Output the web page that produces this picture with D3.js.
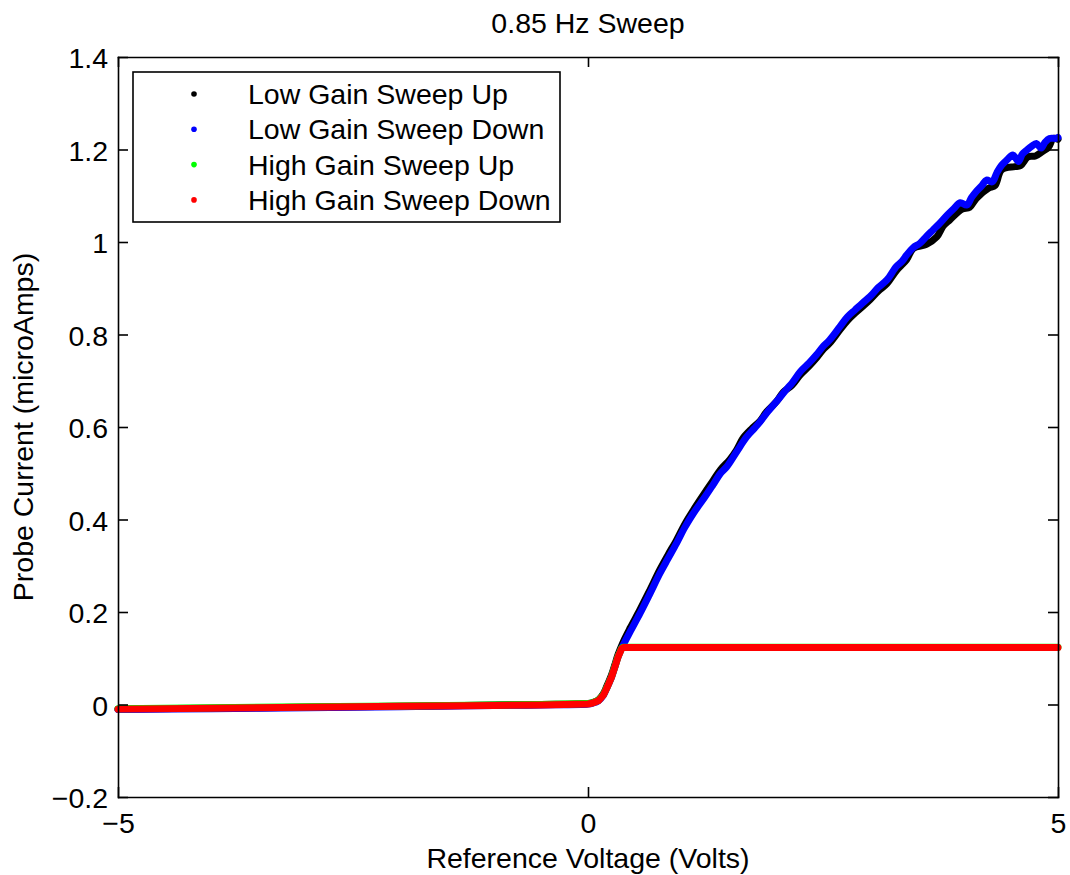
<!DOCTYPE html>
<html>
<head>
<meta charset="utf-8">
<script src="https://cdn.jsdelivr.net/npm/d3@7"></script>
<style>
  html, body { margin: 0; padding: 0; background: #fff; }
  svg { display: block; font-family: "Liberation Sans", Arial, Helvetica, sans-serif; }
  .axis text { font-size: 28.5px; fill: #000; }
  .axis path, .axis line { stroke: #000; stroke-width: 1.6px; }
</style>
</head>
<body>
<svg id="chart" width="1070" height="875"></svg>
<script>
// Probe I–V sweep at 0.85 Hz: [reference voltage (V), probe current (µA)]
const lowGainUp = [
  [-5, -0.010], [-4, -0.008], [-3, -0.006], [-2, -0.004], [-1, -0.001], [-0.5, 0.000],
  [0, 0.002], [0.05, 0.004], [0.11, 0.010], [0.163, 0.023], [0.199, 0.039], [0.252, 0.065],
  [0.287, 0.087], [0.32, 0.108], [0.376, 0.136], [0.45, 0.166], [0.553, 0.205], [0.65, 0.244],
  [0.766, 0.292], [0.85, 0.323], [0.943, 0.356], [1.03, 0.390], [1.12, 0.420], [1.22, 0.451],
  [1.33, 0.484], [1.41, 0.508], [1.51, 0.530], [1.58, 0.550], [1.65, 0.576], [1.74, 0.596],
  [1.83, 0.613], [1.90, 0.633], [2.01, 0.656], [2.08, 0.676], [2.17, 0.690], [2.26, 0.713],
  [2.35, 0.731], [2.43, 0.749], [2.50, 0.767], [2.57, 0.781], [2.68, 0.810], [2.76, 0.830],
  [2.84, 0.846], [2.92, 0.860], [3.00, 0.875], [3.09, 0.894], [3.18, 0.910], [3.28, 0.938],
  [3.39, 0.962], [3.46, 0.986], [3.60, 0.995], [3.71, 1.011], [3.78, 1.035], [3.85, 1.048],
  [3.98, 1.071], [4.06, 1.075], [4.13, 1.094], [4.26, 1.116], [4.33, 1.122], [4.40, 1.156],
  [4.54, 1.163], [4.60, 1.165], [4.68, 1.184], [4.76, 1.186], [4.83, 1.195], [4.90, 1.205],
  [4.95, 1.224], [5.0, 1.222]
];

const lowGainDown = [
  [-5, -0.011], [-4, -0.009], [-3, -0.007], [-2, -0.005], [-1, -0.002], [-0.5, -0.001],
  [0, 0.001], [0.05, 0.003], [0.11, 0.008], [0.163, 0.020], [0.199, 0.035], [0.252, 0.060],
  [0.287, 0.082], [0.32, 0.103], [0.376, 0.129], [0.45, 0.158], [0.553, 0.197], [0.65, 0.236],
  [0.766, 0.284], [0.85, 0.315], [0.943, 0.349], [1.03, 0.383], [1.12, 0.413], [1.245, 0.449],
  [1.33, 0.475], [1.41, 0.500], [1.476, 0.514], [1.58, 0.546], [1.69, 0.579], [1.77, 0.597],
  [1.83, 0.611], [1.90, 0.630], [2.01, 0.656], [2.11, 0.681], [2.17, 0.695], [2.26, 0.720],
  [2.35, 0.738], [2.43, 0.756], [2.50, 0.774], [2.57, 0.788], [2.68, 0.817], [2.76, 0.838],
  [2.84, 0.853], [2.92, 0.868], [3.00, 0.882], [3.09, 0.902], [3.18, 0.918], [3.28, 0.947],
  [3.34, 0.958], [3.39, 0.972], [3.46, 0.988], [3.53, 0.997], [3.60, 1.012], [3.67, 1.026],
  [3.74, 1.040], [3.82, 1.058], [3.89, 1.072], [3.96, 1.085], [4.03, 1.080], [4.08, 1.096],
  [4.13, 1.109], [4.19, 1.122], [4.24, 1.134], [4.30, 1.130], [4.35, 1.150], [4.40, 1.166],
  [4.46, 1.178], [4.52, 1.188], [4.58, 1.174], [4.62, 1.190], [4.67, 1.199], [4.72, 1.207],
  [4.77, 1.213], [4.82, 1.203], [4.86, 1.215], [4.91, 1.224], [4.98, 1.224], [5.0, 1.226]
];

const highGainUp = [
  [-5, -0.009], [-4, -0.007], [-3, -0.005], [-2, -0.003], [-1, -0.001], [-0.5, 0.000],
  [0, 0.002], [0.05, 0.004], [0.11, 0.009], [0.163, 0.021], [0.199, 0.036], [0.252, 0.061],
  [0.287, 0.083], [0.32, 0.104], [0.358, 0.122], [0.376, 0.124], [5.0, 0.124]
];

const highGainDown = [
  [-5, -0.010], [-4, -0.008], [-3, -0.006], [-2, -0.004], [-1, -0.002], [-0.5, -0.001],
  [0, 0.001], [0.05, 0.003], [0.11, 0.008], [0.163, 0.020], [0.199, 0.035], [0.252, 0.060],
  [0.287, 0.082], [0.32, 0.103], [0.358, 0.121], [0.376, 0.123], [5.0, 0.123]
];

const seriesNames = ["Low Gain Sweep Up", "Low Gain Sweep Down", "High Gain Sweep Up", "High Gain Sweep Down"];
const seriesColors = ["#000000", "#0000ff", "#00ff00", "#ff0000"];
const xTicks = [-5, 0, 5];
const yTicks = [-0.2, 0, 0.2, 0.4, 0.6, 0.8, 1, 1.2, 1.4];
const titleText = "0.85 Hz Sweep";
const xLabel = "Reference Voltage (Volts)";
const yLabel = "Probe Current (microAmps)";

const FONT = 28.5;
const svg = d3.select("#chart");
const plot = { left: 118, right: 1058, top: 57, bottom: 797 };

const x = d3.scaleLinear().domain([-5, 5]).range([plot.left, plot.right]);
const y = d3.scaleLinear().domain([-0.2, 1.4]).range([plot.bottom, plot.top]);

const fmt = v => (v < 0 ? "\u2212" : "") + String(Math.abs(+v.toFixed(2)));

// data traces: low-gain sweeps smoothed through the readings, high-gain kept sharp at clipping
const smoothLine = d3.line().x(d => x(d[0])).y(d => y(d[1])).curve(d3.curveCatmullRom.alpha(0.5));
const sharpLine = d3.line().x(d => x(d[0])).y(d => y(d[1])).curve(d3.curveLinear);
const allSeries = [
  { pts: lowGainUp, gen: smoothLine },
  { pts: lowGainDown, gen: smoothLine },
  { pts: highGainUp, gen: sharpLine },
  { pts: highGainDown, gen: sharpLine }
];
svg.append("g").selectAll("path")
  .data(allSeries)
  .join("path")
  .attr("d", d => d.gen(d.pts))
  .attr("fill", "none")
  .attr("stroke", (d, i) => seriesColors[i])
  .attr("stroke-width", 7)
  .attr("stroke-linecap", "round")
  .attr("stroke-linejoin", "round");

// axes with inward ticks on all four sides
svg.append("g").attr("class", "axis")
  .attr("transform", `translate(0,${plot.bottom})`)
  .call(d3.axisBottom(x).tickValues(xTicks).tickFormat(fmt).tickSizeInner(-10).tickSizeOuter(0).tickPadding(15.5));
svg.append("g").attr("class", "axis")
  .attr("transform", `translate(0,${plot.top})`)
  .call(d3.axisTop(x).tickValues(xTicks).tickFormat("").tickSizeInner(-10).tickSizeOuter(0));
svg.append("g").attr("class", "axis")
  .attr("transform", `translate(${plot.left},0)`)
  .call(d3.axisLeft(y).tickValues(yTicks).tickFormat(fmt).tickSizeInner(-10).tickSizeOuter(0).tickPadding(10))
  .selectAll("text").attr("dy", "0.37em");
svg.append("g").attr("class", "axis")
  .attr("transform", `translate(${plot.right},0)`)
  .call(d3.axisRight(y).tickValues(yTicks).tickFormat("").tickSizeInner(-10).tickSizeOuter(0));
svg.selectAll(".axis .domain").attr("stroke-linecap", "square");

// title and axis labels
svg.append("text")
  .attr("x", (plot.left + plot.right) / 2).attr("y", 33)
  .attr("text-anchor", "middle").attr("font-size", FONT)
  .text(titleText);
svg.append("text")
  .attr("x", (plot.left + plot.right) / 2).attr("y", 868)
  .attr("text-anchor", "middle").attr("font-size", FONT)
  .text(xLabel);
svg.append("text")
  .attr("transform", `translate(33,${(plot.top + plot.bottom) / 2}) rotate(-90)`)
  .attr("text-anchor", "middle").attr("font-size", FONT)
  .text(yLabel);

// legend
const legend = svg.append("g");
legend.append("rect")
  .attr("x", 133).attr("y", 72).attr("width", 427).attr("height", 150)
  .attr("fill", "#fff").attr("stroke", "#000").attr("stroke-width", 1.6);
const rows = legend.selectAll("g.row").data(seriesNames).join("g")
  .attr("class", "row")
  .attr("transform", (d, i) => `translate(0,${104 + i * 35.3})`);
rows.append("circle").attr("cx", 194).attr("cy", -10).attr("r", 2.8)
  .attr("fill", (d, i) => seriesColors[i]);
rows.append("text").attr("x", 248).attr("y", 0).attr("font-size", FONT).text(d => d);
</script>
</body>
</html>
